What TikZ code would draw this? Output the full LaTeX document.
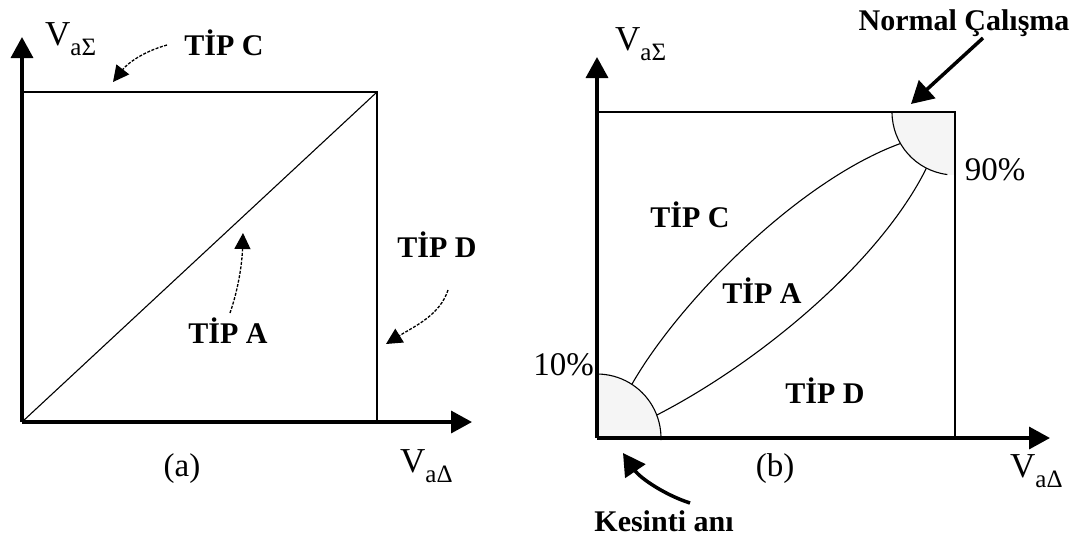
\documentclass[tikz,border=0pt]{standalone}
\usepackage{fontspec}
\setmainfont{Liberation Serif}
\usetikzlibrary{arrows.meta}
\begin{document}
\begin{tikzpicture}[x=1pt,y=-1pt,
  axis/.style={line width=3.5pt,-{Triangle[length=21pt,width=22pt]}},
  box/.style={line width=1.5pt},
  curve/.style={line width=1.1pt},
  tip/.style={font=\fontsize{30}{30}\selectfont\bfseries,anchor=base,inner sep=0pt},
  txt/.style={font=\fontsize{33}{33}\selectfont,anchor=base,inner sep=0pt},
  dasharrow/.style={line width=1.3pt,dash pattern=on 3pt off 1.5pt,-{Triangle[length=16pt,width=16pt]}},
  thickarrow/.style={line width=3.5pt,-{Triangle[length=22pt,width=24pt]}},
  zone/.style={fill=black!4,draw=none}]
\useasboundingbox (0,0) rectangle (1077,539);
\newcommand{\VS}[1]{{\fontsize{35}{35}\selectfont V}{\fontsize{25}{25}\selectfont\raisebox{-10pt}{a#1}}}
% ---------- panel (a) ----------
\coordinate (ao) at (22,422);
\coordinate (ay) at (22,37);
\coordinate (ax) at (472,422);
\coordinate (atl) at (22,92);
\coordinate (atr) at (377,92);
\coordinate (abr) at (377,422);
\draw[box] (atl) -- (atr) -- (abr);
\draw[curve] (ao) -- (atr);
\draw[axis] (ao) -- (ay);
\draw[axis] (ao) -- (ax);
\node[anchor=base west,inner sep=0pt] (aVS) at (45,45) {\VS{Σ}};
\node[anchor=base west,inner sep=0pt] (aVD) at (400,472) {\VS{Δ}};
\node[tip] (aC) at (224,55) {TİP C};
\node[tip] (aA) at (228,343) {TİP A};
\node[tip] (aD) at (437,257) {TİP D};
\node[txt] (alab) at (182,476) {(a)};
\coordinate (aCs) at (167,45);
\coordinate (aCt) at (113,82);
\coordinate (aAs) at (230,313);
\coordinate (aAt) at (243,233);
\coordinate (aDs) at (448,290);
\coordinate (aDt) at (386,344);
\draw[dasharrow] (aCs) .. controls (142,52) and (127,64) .. (aCt);
\draw[dasharrow] (aAs) .. controls (238,290) and (242,265) .. (aAt);
\draw[dasharrow] (aDs) .. controls (440,315) and (415,326) .. (aDt);
% ---------- panel (b) ----------
\coordinate (bo) at (597,438);
\coordinate (by) at (597,57);
\coordinate (bx) at (1050,438);
\coordinate (btl) at (597,112);
\coordinate (btr) at (955,112);
\coordinate (bbr) at (955,438);
\fill[zone] (bo) -- ++(270:64) arc[start angle=270,end angle=360,radius=64] -- cycle;
\fill[zone] (btr) -- ++(180:63) arc[start angle=180,end angle=90,radius=63] -- cycle;
\draw[curve] (bo) ++(270:64) arc[start angle=270,end angle=362,radius=64];
\draw[curve] (btr) ++(180:63) arc[start angle=180,end angle=97,radius=63];
\draw[box] (btl) -- (btr) -- (bbr);
\path (bo) ++(303:64) coordinate (u1);
\path (bo) ++(339:64) coordinate (l1);
\path (btr) ++(150:63) coordinate (u2);
\path (btr) ++(117:63) coordinate (l2);
\draw[curve] (u1) .. controls (680,300) and (800,180) .. (u2);
\draw[curve] (l1) .. controls (760,362) and (880,262) .. (l2);
\draw[axis] (bo) -- (by);
\draw[axis] (bo) -- (bx);
\node[anchor=base west,inner sep=0pt] (bVS) at (615,50) {\VS{Σ}};
\node[anchor=base west,inner sep=0pt] (bVD) at (1010,477) {\VS{Δ}};
\node[tip] (bC) at (690,227) {TİP C};
\node[tip] (bA) at (762,303) {TİP A};
\node[tip] (bD) at (825,403) {TİP D};
\node[tip] (bN) at (964,30) {Normal Çalışma};
\node[tip] (bK) at (664,531) {Kesinti anı};
\node[txt] (b90) at (995,180) {90\%};
\node[txt,anchor=base east] (b10) at (594,375) {10\%};
\node[txt] (blab) at (775,476) {(b)};
\coordinate (bNs) at (983,38);
\coordinate (bNt) at (911,104);
\coordinate (bKs) at (690,503);
\coordinate (bKt) at (623,453);
\draw[thickarrow] (bNs) -- (bNt);
\draw[thickarrow] (bKs) .. controls (665,495) and (640,478) .. (bKt);
\end{tikzpicture}
\end{document}
